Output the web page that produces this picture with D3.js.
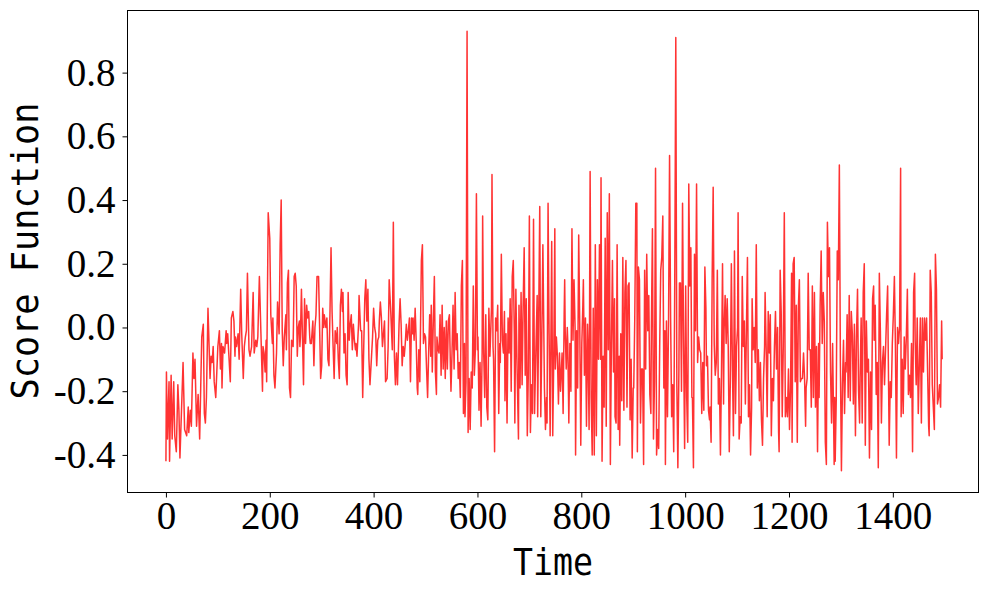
<!DOCTYPE html>
<html>
<head>
<meta charset="utf-8">
<script src="https://cdn.jsdelivr.net/npm/d3@7"></script>
<style>
  body { margin: 0; background: #fff; }
</style>
</head>
<body>
<svg></svg>
<script>
// [time, score] pairs, split by time range
const seg0to250 = [[0,-0.42],[1,-0.14],[3,-0.35],[6,-0.17],[7,-0.42],[10,-0.15],[12,-0.35],[15,-0.17],[17,-0.34],[20,-0.39],[23,-0.18],[25,-0.26],[27,-0.41],[30,-0.26],[33,-0.11],[36,-0.32],[40,-0.34],[43,-0.25],[44,-0.33],[47,-0.26],[49,-0.31],[52,-0.08],[54,-0.16],[56,-0.10],[59,-0.31],[62,-0.21],[65,-0.35],[67,-0.19],[69,-0.03],[72,0.01],[74,-0.27],[76,-0.30],[78,-0.22],[81,0.06],[85,-0.16],[87,-0.09],[89,-0.11],[91,-0.06],[93,-0.17],[96,-0.22],[98,-0.14],[100,-0.06],[103,-0.01],[105,-0.13],[107,-0.05],[108,-0.19],[110,-0.06],[113,-0.08],[116,-0.01],[117,-0.05],[119,-0.02],[121,-0.08],[124,-0.17],[126,0.03],[129,0.05],[131,0.02],[133,-0.09],[134,-0.03],[136,-0.06],[139,-0.02],[141,-0.10],[144,0.12],[146,-0.02],[149,-0.16],[151,-0.06],[153,-0.03],[155,-0.01],[157,0.17],[160,-0.07],[162,-0.09],[165,-0.06],[168,0.11],[170,-0.08],[173,-0.04],[175,-0.06],[177,-0.03],[180,0.16],[183,-0.02],[186,-0.20],[187,-0.06],[189,-0.08],[191,-0.14],[193,-0.04],[194,-0.17],[197,0.36],[200,0.28],[202,0.04],[205,-0.05],[206,0.03],[208,-0.15],[210,-0.19],[213,-0.08],[215,0.08],[218,-0.02],[220,0.26],[222,0.40],[224,-0.01],[226,-0.12],[228,-0.03],[231,0.04],[232,-0.07],[234,0.14],[236,0.18],[238,-0.19],[240,-0.22],[242,-0.04],[245,-0.06],[247,0.16]];
const seg250to500 = [[249,0.17],[251,0.13],[253,-0.09],[255,0.00],[257,0.02],[258,-0.06],[259,-0.03],[261,0.12],[263,-0.03],[265,-0.18],[267,0.09],[269,-0.05],[271,0.07],[273,0.03],[275,0.05],[277,-0.03],[278,-0.05],[280,-0.05],[283,0.02],[285,-0.12],[287,0.00],[289,0.04],[291,0.16],[294,0.16],[296,0.00],[298,-0.16],[300,-0.12],[302,0.06],[304,0.00],[305,0.04],[308,0.00],[310,0.03],[312,-0.10],[314,-0.12],[316,0.05],[318,0.25],[320,0.05],[322,-0.06],[324,-0.16],[326,-0.01],[329,-0.05],[330,0.00],[332,-0.10],[334,-0.16],[336,0.07],[338,0.12],[340,0.05],[341,0.11],[343,-0.08],[345,-0.02],[347,-0.15],[349,-0.18],[351,0.11],[353,-0.04],[355,0.01],[357,0.04],[359,-0.07],[361,0.01],[363,-0.04],[365,-0.07],[366,-0.05],[368,-0.09],[371,0.01],[372,0.10],[375,-0.01],[377,-0.01],[379,-0.22],[381,-0.06],[383,0.09],[385,0.15],[387,0.02],[389,0.12],[391,-0.10],[393,-0.18],[396,-0.09],[398,-0.03],[400,0.06],[402,0.00],[404,-0.02],[406,-0.12],[408,-0.04],[410,-0.03],[411,0.02],[413,0.08],[415,0.03],[417,-0.06],[419,-0.02],[421,0.02],[423,-0.17],[426,-0.16],[428,-0.06],[430,0.15],[433,0.05],[436,-0.07],[438,0.33],[440,-0.09],[442,-0.18],[444,-0.08],[446,-0.18],[449,0.01],[451,0.09],[453,0.01],[455,-0.12],[457,-0.06],[459,-0.09],[461,-0.05],[463,0.01],[465,-0.04],[467,-0.01],[469,0.03],[471,-0.17],[473,0.03],[475,-0.02],[476,0.03],[478,-0.04],[480,0.06],[482,-0.04],[484,-0.19],[485,-0.21],[487,-0.07],[489,-0.17],[492,0.21],[494,0.26],[496,-0.05],[498,-0.02],[500,-0.03]];
const seg500to770 = [[502,-0.13],[504,-0.22],[506,-0.08],[508,0.04],[510,-0.09],[511,0.07],[513,-0.14],[515,0.02],[517,0.16],[519,-0.14],[521,-0.21],[522,-0.03],[524,-0.07],[526,-0.08],[528,0.04],[530,-0.15],[532,0.07],[534,-0.13],[536,0.00],[538,-0.16],[540,0.02],[542,-0.13],[544,0.02],[546,0.04],[548,-0.13],[549,-0.20],[551,-0.08],[553,0.07],[555,-0.13],[557,0.11],[559,-0.07],[561,-0.02],[563,-0.16],[565,-0.11],[567,-0.22],[569,0.13],[571,0.21],[573,-0.27],[575,-0.05],[576,-0.28],[578,-0.17],[580,0.93],[582,-0.33],[584,-0.16],[586,-0.32],[588,-0.14],[590,-0.19],[592,0.13],[594,-0.15],[596,-0.07],[598,0.42],[600,-0.07],[601,-0.03],[603,-0.26],[605,-0.11],[607,-0.31],[609,-0.08],[610,0.35],[612,-0.08],[614,-0.22],[616,0.04],[618,-0.25],[620,-0.29],[622,0.06],[624,-0.09],[627,0.06],[628,0.48],[630,-0.06],[631,-0.10],[633,-0.39],[635,0.03],[637,-0.01],[639,0.07],[641,-0.27],[643,-0.05],[644,-0.11],[646,0.23],[648,-0.04],[650,-0.08],[652,0.05],[653,-0.23],[655,-0.02],[657,-0.30],[659,0.03],[661,-0.08],[663,0.09],[665,-0.20],[667,0.16],[669,0.21],[671,-0.02],[672,-0.30],[674,0.12],[676,-0.10],[679,-0.35],[680,0.07],[682,-0.19],[684,0.11],[686,-0.18],[688,0.07],[690,0.25],[692,-0.15],[694,0.09],[696,-0.34],[698,-0.14],[700,0.35],[702,-0.33],[704,-0.18],[706,-0.27],[708,0.34],[710,-0.27],[712,-0.11],[715,0.10],[716,-0.28],[718,0.04],[720,0.38],[722,-0.28],[724,-0.03],[726,0.26],[729,-0.19],[731,-0.32],[733,-0.22],[734,-0.30],[736,0.39],[738,-0.02],[740,-0.34],[743,0.27],[745,-0.34],[747,-0.09],[749,0.31],[750,-0.13],[752,-0.03],[754,-0.09],[756,-0.24],[758,-0.08],[760,-0.20],[763,-0.08],[765,-0.27],[767,0.04],[768,0.15]];
const seg770to1030 = [[769,-0.01],[771,-0.13],[773,0.00],[774,-0.05],[776,-0.30],[778,-0.05],[780,-0.20],[782,0.31],[784,-0.04],[786,0.15],[788,0.00],[789,-0.40],[791,-0.01],[793,-0.19],[795,0.29],[797,0.01],[799,-0.37],[801,-0.05],[803,0.07],[804,0.15],[806,-0.15],[808,0.03],[810,-0.31],[812,0.01],[813,-0.05],[815,-0.32],[817,0.49],[819,-0.22],[821,-0.40],[823,0.06],[825,-0.40],[827,0.26],[829,-0.34],[831,0.15],[833,-0.10],[835,0.26],[837,-0.10],[838,0.47],[840,-0.42],[842,-0.09],[844,-0.25],[846,0.28],[848,-0.31],[850,0.36],[852,-0.07],[854,0.42],[856,-0.43],[858,-0.05],[860,0.21],[862,-0.14],[864,0.09],[865,-0.28],[867,-0.30],[869,0.26],[871,-0.32],[873,-0.09],[874,-0.37],[876,-0.02],[878,-0.23],[880,0.22],[882,-0.26],[884,0.11],[886,0.21],[888,-0.25],[890,0.13],[892,0.14],[894,-0.29],[896,-0.10],[898,-0.41],[900,-0.19],[901,-0.19],[903,0.03],[905,0.39],[907,0.39],[908,-0.39],[910,0.19],[912,0.15],[914,-0.30],[916,-0.13],[918,-0.13],[920,-0.43],[922,0.18],[924,-0.13],[926,0.23],[928,-0.01],[930,0.10],[932,-0.21],[934,-0.27],[935,0.00],[937,0.31],[939,-0.35],[941,-0.17],[943,0.50],[945,-0.40],[947,-0.32],[949,-0.38],[951,-0.06],[953,0.18],[955,0.22],[957,0.35],[959,-0.19],[961,-0.01],[962,-0.43],[964,0.02],[966,-0.28],[968,0.01],[970,0.54],[972,0.03],[974,-0.28],[976,-0.18],[978,-0.39],[980,0.15],[982,0.91],[984,-0.18],[986,-0.44],[988,-0.13],[989,0.14],[991,0.14],[993,-0.20],[995,0.39],[997,-0.05],[999,-0.38],[1001,0.13],[1003,-0.22],[1005,-0.36],[1007,0.45],[1009,0.13],[1011,0.25],[1013,-0.22],[1014,-0.22],[1016,-0.44],[1018,0.23],[1020,-0.01],[1022,0.45],[1024,-0.11],[1026,-0.03],[1028,-0.07]];
const seg1030to1290 = [[1030,-0.08],[1032,-0.27],[1034,-0.11],[1036,-0.26],[1038,0.19],[1040,0.06],[1041,-0.12],[1043,-0.09],[1045,-0.26],[1047,-0.29],[1048,-0.25],[1050,-0.36],[1052,0.15],[1054,0.44],[1056,-0.05],[1058,-0.15],[1060,-0.11],[1062,0.18],[1064,-0.24],[1066,-0.16],[1068,-0.40],[1070,-0.14],[1072,0.20],[1074,-0.24],[1075,-0.01],[1077,0.10],[1079,-0.05],[1081,0.09],[1083,-0.06],[1085,-0.39],[1087,-0.17],[1089,0.20],[1091,-0.12],[1093,-0.34],[1095,0.24],[1097,-0.27],[1099,-0.06],[1101,0.00],[1102,0.36],[1104,-0.35],[1106,-0.28],[1108,-0.30],[1110,0.16],[1112,-0.06],[1114,0.02],[1116,-0.24],[1118,-0.01],[1120,0.22],[1122,-0.28],[1124,-0.18],[1126,-0.40],[1128,-0.25],[1129,0.09],[1131,-0.07],[1133,0.00],[1135,-0.11],[1137,0.26],[1139,-0.19],[1141,-0.07],[1143,-0.23],[1145,-0.11],[1147,-0.29],[1149,-0.37],[1151,-0.16],[1153,-0.06],[1154,0.11],[1156,-0.06],[1158,-0.28],[1160,0.05],[1162,-0.08],[1164,0.04],[1166,-0.34],[1168,-0.16],[1170,-0.23],[1172,-0.06],[1174,0.05],[1176,-0.13],[1178,0.00],[1180,-0.33],[1181,-0.39],[1183,0.18],[1185,0.05],[1187,-0.28],[1189,-0.06],[1191,0.36],[1193,-0.28],[1195,-0.22],[1197,-0.28],[1199,-0.13],[1201,-0.32],[1203,-0.19],[1205,0.17],[1206,-0.36],[1208,0.20],[1210,0.22],[1212,-0.17],[1214,0.07],[1216,-0.36],[1218,0.06],[1220,0.15],[1222,-0.17],[1224,-0.16],[1226,-0.16],[1228,-0.08],[1230,-0.16],[1232,-0.31],[1233,-0.19],[1235,-0.16],[1237,0.17],[1239,-0.07],[1241,-0.07],[1243,-0.25],[1245,0.13],[1247,-0.22],[1249,0.11],[1251,-0.25],[1253,-0.06],[1255,-0.39],[1257,-0.05],[1258,-0.22],[1260,0.07],[1262,0.24],[1264,-0.05],[1266,0.11],[1268,0.02],[1270,-0.36],[1272,-0.43],[1274,0.33],[1276,0.16],[1278,0.25],[1280,-0.14],[1282,-0.30],[1284,-0.05],[1286,-0.30],[1287,-0.43]];
const seg1290to1500 = [[1288,-0.22],[1289,-0.42],[1291,-0.23],[1293,0.24],[1295,0.15],[1297,0.51],[1299,-0.11],[1301,-0.45],[1303,-0.18],[1305,-0.04],[1307,-0.27],[1309,-0.11],[1310,-0.14],[1312,0.04],[1314,-0.22],[1316,0.10],[1318,-0.23],[1320,0.05],[1322,-0.02],[1324,-0.24],[1326,0.01],[1328,-0.34],[1330,-0.03],[1332,0.12],[1334,-0.20],[1336,-0.30],[1337,-0.16],[1339,0.03],[1341,-0.30],[1343,0.11],[1345,0.20],[1347,-0.37],[1349,0.02],[1351,-0.14],[1353,-0.10],[1355,-0.41],[1357,-0.14],[1359,-0.32],[1361,0.09],[1363,0.13],[1364,-0.04],[1366,0.07],[1368,-0.21],[1370,-0.11],[1372,-0.44],[1374,0.17],[1376,-0.01],[1378,-0.30],[1380,-0.11],[1382,-0.06],[1384,-0.18],[1386,-0.07],[1388,0.04],[1390,0.13],[1391,-0.05],[1393,-0.37],[1395,-0.17],[1397,-0.22],[1399,-0.05],[1401,0.04],[1403,0.16],[1405,-0.06],[1407,-0.41],[1409,0.00],[1411,-0.05],[1413,0.00],[1415,0.50],[1416,-0.28],[1418,-0.10],[1420,-0.27],[1422,-0.03],[1424,-0.13],[1426,-0.03],[1428,0.12],[1430,-0.21],[1432,-0.15],[1434,-0.22],[1436,-0.05],[1438,-0.39],[1440,0.11],[1442,0.17],[1443,-0.04],[1445,-0.18],[1447,0.03],[1449,-0.27],[1451,-0.12],[1453,0.03],[1455,-0.30],[1457,0.03],[1459,-0.14],[1461,0.03],[1463,-0.04],[1465,0.03],[1467,-0.14],[1469,-0.31],[1470,-0.34],[1472,0.18],[1474,0.11],[1476,-0.18],[1478,-0.25],[1480,-0.32],[1482,0.23],[1484,0.12],[1486,-0.24],[1488,-0.22],[1490,-0.18],[1492,-0.25],[1494,0.02],[1495,-0.10]];

const xTicks = [0, 200, 400, 600, 800, 1000, 1200, 1400];
const yTicks = [-0.4, -0.2, 0.0, 0.2, 0.4, 0.6, 0.8];

const series = [].concat(seg0to250, seg250to500, seg500to770, seg770to1030, seg1030to1290, seg1290to1500);

const width = 989;
const height = 590;
const plot = { left: 127.5, top: 10.5, right: 978.5, bottom: 492.5 };
const tickFont = '"Liberation Serif", "Times New Roman", serif';
const labelFont = '"DejaVu Sans Mono", monospace';

const svg = d3.select('svg')
  .attr('width', width)
  .attr('height', height);

const x = d3.scaleLinear().domain([-74, 1565]).range([plot.left, plot.right]);
const y = d3.scaleLinear().domain([-0.518, 0.995]).range([plot.bottom, plot.top]);

const line = d3.line()
  .x(d => x(d[0]))
  .y(d => y(d[1]));

svg.append('path')
  .datum(series)
  .attr('fill', 'none')
  .attr('stroke', '#ff3333')
  .attr('stroke-width', 1.5)
  .attr('stroke-linejoin', 'round')
  .attr('d', line);

const xAxis = svg.append('g')
  .attr('transform', `translate(0,${plot.bottom})`)
  .call(d3.axisBottom(x).tickValues(xTicks).tickSize(5).tickPadding(4).tickFormat(d => String(d)));

const yAxis = svg.append('g')
  .attr('transform', `translate(${plot.left},0)`)
  .call(d3.axisLeft(y).tickValues(yTicks).tickSize(5).tickPadding(7).tickFormat(d => d.toFixed(1)));

[xAxis, yAxis].forEach(g => {
  g.select('.domain').remove();
  g.selectAll('line').attr('stroke', '#000').attr('stroke-width', 1);
  g.selectAll('text')
    .attr('fill', '#000')
    .style('font-family', tickFont)
    .style('font-size', '39px');
});

svg.append('rect')
  .attr('x', plot.left)
  .attr('y', plot.top)
  .attr('width', plot.right - plot.left)
  .attr('height', plot.bottom - plot.top)
  .attr('fill', 'none')
  .attr('stroke', '#000')
  .attr('stroke-width', 1);

svg.append('text')
  .attr('x', 553)
  .attr('y', 575)
  .attr('text-anchor', 'middle')
  .attr('textLength', 80)
  .attr('lengthAdjust', 'spacingAndGlyphs')
  .style('font-family', labelFont)
  .style('font-size', '38px')
  .text('Time');

svg.append('text')
  .attr('transform', 'translate(38,251) rotate(-90)')
  .attr('text-anchor', 'middle')
  .attr('textLength', 297)
  .attr('lengthAdjust', 'spacingAndGlyphs')
  .style('font-family', labelFont)
  .style('font-size', '38px')
  .text('Score Function');
</script>
</body>
</html>
